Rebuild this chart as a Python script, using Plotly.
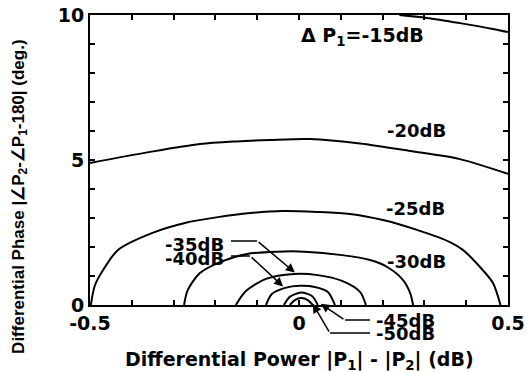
import plotly.graph_objects as go

# ---- data (x: differential power dB, y: differential phase deg) ----
x_m15 = [0.24, 0.306, 0.385, 0.464, 0.5]
y_m15 = [10.0, 9.90, 9.72, 9.52, 9.41]

x_m20 = [-0.5, -0.356, -0.237, -0.15, -0.069, 0.026, 0.146, 0.266, 0.385, 0.5]
y_m20 = [4.90, 5.28, 5.55, 5.64, 5.69, 5.72, 5.57, 5.31, 5.03, 4.52]

x_m25 = [-0.498, -0.488, -0.464, -0.433, -0.352, -0.273, -0.194, -0.117, -0.038,
         0.043, 0.122, 0.201, 0.282, 0.361, 0.392, 0.433, 0.464, 0.482]
y_m25 = [0.0, 0.69, 1.31, 1.90, 2.48, 2.83, 3.03, 3.17, 3.24,
         3.21, 3.14, 2.93, 2.59, 2.17, 1.90, 1.31, 0.76, 0.0]

x_m30 = [-0.275, -0.266, -0.237, -0.189, -0.124, -0.053, 0.014, 0.103, 0.170, 0.211, 0.249, 0.266, 0.273]
y_m30 = [0.0, 0.52, 1.10, 1.48, 1.76, 1.84, 1.84, 1.72, 1.55, 1.31, 0.86, 0.41, 0.0]

x_m35 = [-0.151, -0.127, -0.079, -0.012, 0.045, 0.103, 0.146, 0.160]
y_m35 = [0.0, 0.48, 0.90, 1.07, 1.03, 0.83, 0.45, 0.0]

x_m40 = [-0.079, -0.065, -0.033, 0.002, 0.038, 0.069, 0.086]
y_m40 = [0.0, 0.38, 0.59, 0.66, 0.62, 0.45, 0.0]

x_m45 = [-0.036, -0.022, 0.005, 0.031, 0.045]
y_m45 = [0.0, 0.28, 0.43, 0.31, 0.0]

x_m50 = [-0.022, -0.010, 0.005, 0.021, 0.033]
y_m50 = [0.0, 0.17, 0.24, 0.17, 0.0]

curves = [(x_m15, y_m15), (x_m20, y_m20), (x_m25, y_m25), (x_m30, y_m30),
          (x_m35, y_m35), (x_m40, y_m40), (x_m45, y_m45), (x_m50, y_m50)]

x_ticks = [-0.5, -0.4, -0.3, -0.2, -0.1, 0.0, 0.1, 0.2, 0.3, 0.4, 0.5]
x_ticktext = ['-0.5', '', '', '', '', '0', '', '', '', '', '0.5']
y_ticks = [0, 1, 2, 3, 4, 5, 6, 7, 8, 9, 10]
y_ticktext = ['0', '', '', '', '', '5', '', '', '', '', '10']

BOLD = dict(family="DejaVu Sans", size=18, color="black", weight="bold")

fig = go.Figure()
for cx, cy in curves:
    fig.add_trace(go.Scatter(x=cx, y=cy, mode="lines",
                             line=dict(color="black", width=2, shape="spline", smoothing=0.8),
                             hoverinfo="skip", showlegend=False))

axis_common = dict(showline=True, linecolor="black", linewidth=2, mirror="ticks",
                   ticks="inside", ticklen=5, tickwidth=1.5, tickcolor="black",
                   showgrid=False, zeroline=False, automargin=False,
                   tickfont=dict(family="DejaVu Sans", size=19, color="black", weight="bold"))

fig.update_xaxes(range=[-0.5, 0.5], tickvals=x_ticks, ticktext=x_ticktext, **axis_common)
fig.update_yaxes(range=[0, 10], tickvals=y_ticks, ticktext=y_ticktext, **axis_common)

# contour labels, positions as fractions of the plot area
def px2paper(px, py):
    return (px - 90) / 418.0, (305 - py) / 290.0

labels = [
    ("Δ P<sub>1</sub>=-15dB", (299, 36), "left", 19),
    ("-20dB", (416, 130), "center", 18),
    ("-25dB", (415, 208), "center", 18),
    ("-30dB", (416, 261), "center", 18),
    ("-35dB", (194, 244), "center", 18),
    ("-40dB", (194, 258), "center", 18),
    ("-45dB", (405, 320), "center", 18),
    ("-50dB", (405, 333), "center", 18),
]
for txt, pos, anc, sz in labels:
    lx, ly = px2paper(*pos)
    fig.add_annotation(x=lx, y=ly, xref="paper", yref="paper", text=txt, showarrow=False,
                       xanchor=anc, yanchor="middle", font=dict(BOLD, size=sz))

# leader lines
segments = [
    ((231, 241), (257, 241)),
    ((231, 256), (250, 256)),
    ((345, 320), (370, 320)),
    ((330, 333), (370, 333)),
]
for (a, b) in segments:
    x0, y0 = px2paper(*a)
    x1, y1 = px2paper(*b)
    fig.add_shape(type="line", xref="paper", yref="paper", x0=x0, y0=y0, x1=x1, y1=y1,
                  line=dict(color="black", width=1.5))

arrows = [  # (tip x, tip y, tail x, tail y) in data units
    (-0.010, 1.12, -0.100, 2.21),
    (-0.038, 0.64, -0.117, 1.69),
    (0.052, 0.04, 0.110, -0.52),
    (0.033, 0.04, 0.074, -0.97),
]
for tx, ty, sx, sy in arrows:
    fig.add_annotation(x=tx, y=ty, ax=sx, ay=sy, xref="x", yref="y", axref="x", ayref="y",
                       text="", showarrow=True, arrowhead=2, arrowsize=1.2, arrowwidth=1.5,
                       arrowcolor="black", standoff=0, startstandoff=0)

# axis titles
fig.add_annotation(x=0.5, y=-0.19, xref="paper", yref="paper", yanchor="middle",
                   text="Differential Power |P<sub>1</sub>| - |P<sub>2</sub>| (dB)",
                   showarrow=False, font=dict(family="DejaVu Sans", size=19, color="black", weight="bold"))
fig.add_annotation(x=-0.168, y=0.372, xref="paper", yref="paper", textangle=-90,
                   xanchor="center", yanchor="middle",
                   text="Differential Phase |∠P<sub>2</sub>-∠P<sub>1</sub>-180| (deg.)",
                   showarrow=False,
                   font=dict(family="Liberation Sans Narrow, Liberation Sans",
                             size=17, color="black", weight="bold"))

fig.update_layout(width=527, height=372, margin=dict(l=90, r=19, t=15, b=67),
                  paper_bgcolor="white", plot_bgcolor="white", showlegend=False)

fig.write_html("out.html", config={"displayModeBar": False},
               post_script="document.body.style.margin='0px';")
